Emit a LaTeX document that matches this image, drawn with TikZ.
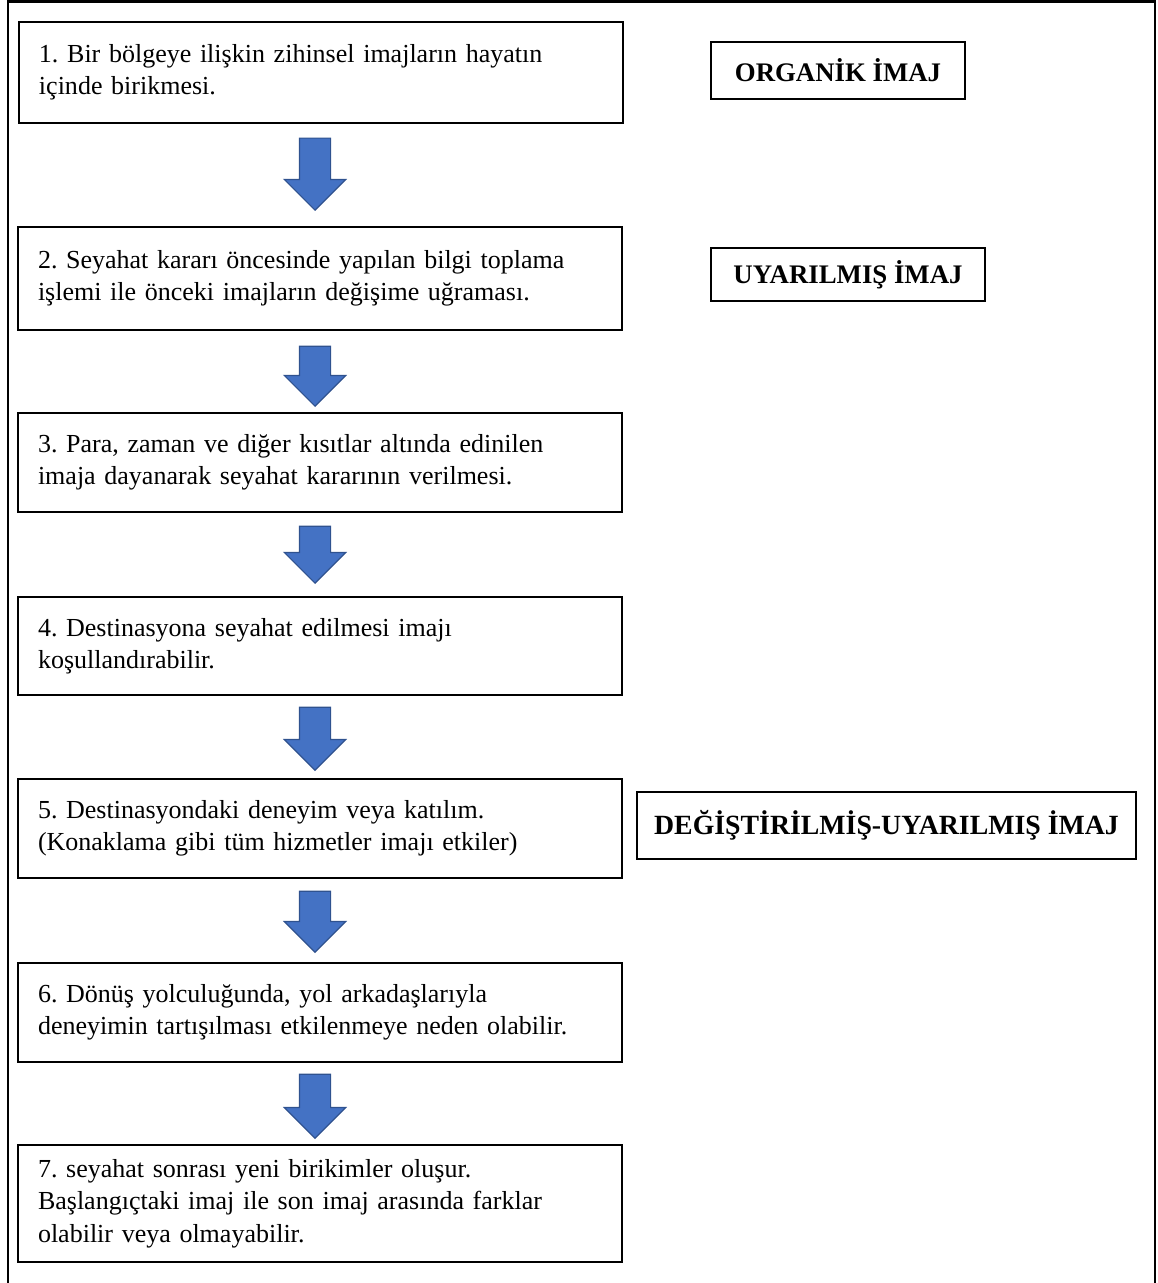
\documentclass[tikz,border=0pt]{standalone}
\usepackage{fontspec}
\setmainfont{Liberation Serif}
\usepackage{xcolor}
\usetikzlibrary{shapes.arrows}

\definecolor{arrowblue}{HTML}{4472C4}
\definecolor{arrowedge}{HTML}{2F528F}

\tikzset{
	stepbox/.style = {draw, line width = 1.2pt, text width = 282pt, align = left, inner xsep = 10pt, font = \fontsize{13}{16.25}\selectfont},
	imagebox/.style = {draw, line width = 1.2pt, inner sep = 0pt, font = \fontsize{13.4}{15}\selectfont\bfseries},
	downarrow/.style = {single arrow, rotate = -90, anchor = tip, fill = arrowblue, draw = arrowedge, line width = 0.6pt, inner xsep = 0pt, inner ysep = 7.5pt, single arrow head extend = 7.5pt}
}

\begin{document}
\frenchspacing
\begin{tikzpicture}[x = 0.5pt, y = -0.5pt]
			\def\xL{8};
			\def\xR{1155};
			\def\xA{315};

			\useasboundingbox (0,0) rectangle (1157,1283);

			\begin{scope}
				\draw [line width = 1.3pt] (\xL,1290) -- (\xL,1.5) -- (\xR,1.5) -- (\xR,1290);
			\end{scope}

			\begin{scope}
				\node [stepbox, minimum height = 50.5pt] (b1) at (321,72.5) {1. Bir bölgeye ilişkin zihinsel imajların hayatın\\içinde birikmesi.};
				\node [stepbox, minimum height = 51.5pt] (b2) at (320,278.5) {2. Seyahat kararı öncesinde yapılan bilgi toplama\\işlemi ile önceki imajların değişime uğraması.};
				\node [stepbox, minimum height = 49.5pt] (b3) at (320,462.5) {3. Para, zaman ve diğer kısıtlar altında edinilen\\imaja dayanarak seyahat kararının verilmesi.};
				\node [stepbox, minimum height = 49pt] (b4) at (320,646) {4. Destinasyona seyahat edilmesi imajı\\koşullandırabilir.};
				\node [stepbox, minimum height = 49.5pt] (b5) at (320,828.5) {5. Destinasyondaki deneyim veya katılım.\\(Konaklama gibi tüm hizmetler imajı etkiler)};
				\node [stepbox, minimum height = 49.5pt] (b6) at (320,1012.5) {6. Dönüş yolculuğunda, yol arkadaşlarıyla\\deneyimin tartışılması etkilenmeye neden olabilir.};
				\node [stepbox, minimum height = 58.5pt] (b7) at (320,1203.5) {7. seyahat sonrası yeni birikimler oluşur.\\Başlangıçtaki imaj ile son imaj arasında farklar\\olabilir veya olmayabilir.};
			\end{scope}

			\begin{scope}
				\node [imagebox, minimum width = 127pt, minimum height = 28.5pt] (organik) at (838,70.5) {ORGANİK İMAJ};
				\node [imagebox, minimum width = 137pt, minimum height = 26.5pt] (uyarilmis) at (848,274.5) {UYARILMIŞ İMAJ};
				\node [imagebox, minimum width = 249.5pt, minimum height = 33.5pt, font = \fontsize{13.9}{15}\selectfont\bfseries] (degistirilmis) at (886.5,825.5) {DEĞİŞTİRİLMİŞ-UYARILMIŞ İMAJ};
			\end{scope}

			\begin{scope}
				\node [downarrow, minimum height = 36pt] (a1) at (\xA,211) {};
				\node [downarrow, minimum height = 30pt] (a2) at (\xA,407) {};
				\node [downarrow, minimum height = 28.5pt] (a3) at (\xA,584) {};
				\node [downarrow, minimum height = 31.5pt] (a4) at (\xA,771) {};
				\node [downarrow, minimum height = 30.5pt] (a5) at (\xA,953) {};
				\node [downarrow, minimum height = 32pt] (a6) at (\xA,1139) {};
			\end{scope}
		\end{tikzpicture}
\end{document}
